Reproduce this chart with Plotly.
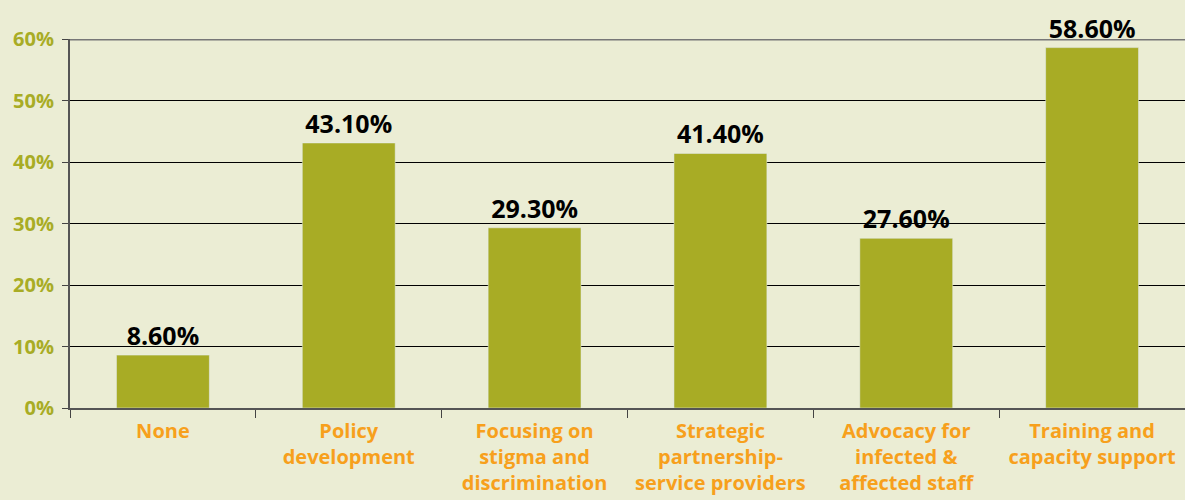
import plotly.graph_objects as go

categories = ["None", "Policy<br>development", "Focusing on<br>stigma and<br>discrimination",
              "Strategic<br>partnership-<br>service providers", "Advocacy for<br>infected &<br>affected staff",
              "Training and<br>capacity support"]
values = [8.6, 43.1, 29.3, 41.4, 27.6, 58.6]
labels = [f"{v:.2f}%" for v in values]
tick_vals = [0, 10, 20, 30, 40, 50, 60]
tick_text = [f"{t}%" for t in tick_vals]

bg = "#ebedd4"
olive = "#a8ac25"
orange = "#f7a01c"

fig = go.Figure(go.Bar(
    x=categories, y=values, text=labels, textposition="outside",
    textfont=dict(family="Open Sans", size=25, color="black", weight="bold"),
    marker=dict(color=olive), cliponaxis=False,
))

fig.update_layout(
    width=1185, height=500,
    paper_bgcolor=bg, plot_bgcolor=bg,
    margin=dict(l=70, r=0, t=39, b=92, autoexpand=False),
    bargap=0.5, showlegend=False,
)
fig.update_yaxes(
    range=[0, 60], tickvals=tick_vals, ticktext=tick_text,
    tickfont=dict(family="Open Sans", size=20, color=olive, weight="bold"),
    showgrid=True, gridcolor="black", gridwidth=1,
    showline=True, linecolor="#555555", linewidth=2,
    ticks="outside", ticklen=6, tickcolor="#444444", zeroline=False,
    ticklabelstandoff=4, automargin=False,
)
fig.update_xaxes(
    tickfont=dict(family="Open Sans", size=20, color=orange, weight="bold"),
    showline=True, linecolor="#555555", linewidth=2,
    ticks="outside", ticklen=8, tickcolor="#444444", tickson="boundaries",
    ticklabelstandoff=4, automargin=False,
)
fig.add_shape(type="line", xref="paper", yref="y", x0=0, x1=1, y0=60, y1=60,
              line=dict(color="#777777", width=3))

fig.write_html("out.html", config={"displayModeBar": False},
               post_script="document.body.style.margin='0';document.body.style.background='#ebedd4';")
